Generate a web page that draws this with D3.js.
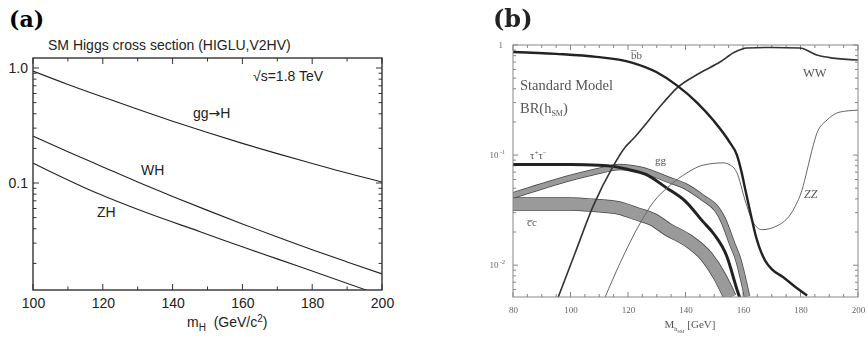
<!DOCTYPE html>
<html>
<head>
<meta charset="utf-8">
<script src="https://cdn.jsdelivr.net/npm/d3@7"></script>
<style>
body { margin: 0; background: #fff; }
svg { display: block; }
</style>
</head>
<body>
<div id="chart"></div>
<script>
var W = 868, H = 339

// ---- panel (a): SM Higgs cross sections at sqrt(s)=1.8 TeV [pb] ----
var ggHMass = [100, 110, 120, 130, 140, 150, 160, 170, 180, 190, 200]
var ggHXsec = [0.94, 0.72, 0.56, 0.437, 0.345, 0.275, 0.221, 0.18, 0.148, 0.122, 0.102]
var whMass = [100, 110, 120, 130, 140, 150, 160, 170, 180, 190, 200]
var whXsec = [0.256, 0.187, 0.138, 0.102, 0.0765, 0.0578, 0.0441, 0.0339, 0.0263, 0.0206, 0.0162]
var zhMass = [100, 104, 118.3, 133, 147.9, 162, 176.5, 195.6]
var zhXsec = [0.149, 0.13, 0.0818, 0.0545, 0.0377, 0.0265, 0.0187, 0.0117]
var xTicksA = [100, 120, 140, 160, 180, 200]
var yTicksA = [1.0, 0.1]
var yTickLabelsA = ["1.0", "0.1"]

// ---- panel (b): SM Higgs branching ratios ----
var bbMass = [80, 95, 109, 120.7, 130, 137, 144, 149.6, 155.5, 157.9, 159.5, 160.7, 162, 163.1, 164.2, 165.5, 167.7, 170, 173.9, 178, 182.3]
var bbBR = [0.864, 0.83, 0.78, 0.70, 0.565, 0.43, 0.30, 0.208, 0.129, 0.1, 0.07, 0.05, 0.035, 0.026, 0.0195, 0.015, 0.011, 0.0092, 0.0078, 0.0064, 0.0053]
var wwMass = [95.7, 101.6, 107.8, 114.8, 119, 121.4, 132.2, 136.7, 145, 152, 157, 161.4, 170, 179.8, 185.7, 191.3, 200]
var wwBR = [0.0051, 0.0129, 0.034, 0.079, 0.118, 0.137, 0.297, 0.40, 0.557, 0.70, 0.86, 0.94, 0.95, 0.94, 0.81, 0.76, 0.73]
var zzMass = [112, 117.2, 124.2, 128.7, 134.6, 140.5, 146.1, 153, 156.5, 157.9, 160.7, 163.5, 166.6, 172.2, 178.1, 180.5, 182.3, 184, 185.7, 189.2, 193.7, 200]
var zzBR = [0.0051, 0.0104, 0.024, 0.037, 0.053, 0.069, 0.081, 0.085, 0.078, 0.069, 0.039, 0.0245, 0.021, 0.023, 0.034, 0.048, 0.073, 0.111, 0.158, 0.208, 0.246, 0.256]
var tauMass = [80, 100, 110, 115, 120, 126, 133.6, 140, 146, 150, 154.4, 158, 158.8]
var tauBR = [0.082, 0.082, 0.081, 0.079, 0.074, 0.067, 0.05, 0.038, 0.025, 0.019, 0.012, 0.0059, 0.0051]
var ggMass = [80, 90, 100, 111, 117, 124, 134.6, 140, 146, 151, 153, 156.5, 158, 161.4]
var ggBR = [0.043, 0.052, 0.062, 0.073, 0.078, 0.074, 0.059, 0.052, 0.041, 0.032, 0.026, 0.015, 0.012, 0.0052]
var ccMass = [80, 100, 108, 117, 123.5, 128.7, 134, 140.5, 147.5, 152, 155.5]
var ccBR = [0.036, 0.036, 0.035, 0.033, 0.029, 0.026, 0.021, 0.017, 0.0118, 0.0078, 0.0051]
var xTicksB = [80, 100, 120, 140, 160, 180, 200]

var svg = d3.select("#chart").append("svg")
    .attr("width", W)
    .attr("height", H)

function zip(xs, ys) {
    return xs.map(function(m, i) { return [m, ys[i]] })
}

function logMinor(lo, hi) {
    // 2..9 multiples of every decade inside [lo, hi]
    var out = []
    for (var e = -3; e <= 0; e++) {
        for (var k = 2; k <= 9; k++) {
            var v = k * Math.pow(10, e)
            if (v > lo && v < hi) out.push(v)
        }
    }
    return out
}

// draw inward ticks on all four sides of a frame
function ticksAll(g, x, y, xMaj, xMin, yMaj, yMin, big, small, col, sw) {
    var x0 = x.range()[0], x1 = x.range()[1], y0 = y.range()[0], y1 = y.range()[1]
    var t = g.append("g").attr("stroke", col).attr("stroke-width", sw)
    function xt(vals, len) {
        vals.forEach(function(v) {
            t.append("line").attr("x1", x(v)).attr("x2", x(v)).attr("y1", y0).attr("y2", y0 - len)
            t.append("line").attr("x1", x(v)).attr("x2", x(v)).attr("y1", y1).attr("y2", y1 + len)
        })
    }
    function yt(vals, len) {
        vals.forEach(function(v) {
            t.append("line").attr("y1", y(v)).attr("y2", y(v)).attr("x1", x0).attr("x2", x0 + len)
            t.append("line").attr("y1", y(v)).attr("y2", y(v)).attr("x1", x1).attr("x2", x1 - len)
        })
    }
    xt(xMaj, big); xt(xMin, small); yt(yMaj, big); yt(yMin, small)
}

// ================= panel (a) =================
var gA = svg.append("g")
var xA = d3.scaleLinear().domain([100, 200]).range([33, 382])
var yA = d3.scaleLog().domain([0.01174, 1.2216]).range([290, 58])

gA.append("text")
    .attr("x", 9).attr("y", 27)
    .attr("font-family", "DejaVu Serif").attr("font-weight", "bold").attr("font-size", 22)
    .text("(a)")

gA.append("text")
    .attr("x", 48).attr("y", 50)
    .attr("font-family", "Liberation Sans").attr("font-size", 14).attr("fill", "#222")
    .text("SM Higgs cross section (HIGLU,V2HV)")

var xAxisA = d3.axisBottom(xA).tickValues(xTicksA).tickSize(0).tickPadding(8)
    .tickFormat(d3.format("d"))
gA.append("g").attr("transform", "translate(0,290)").call(xAxisA)
    .call(function(s) { s.select(".domain").remove() })
    .selectAll("text").attr("font-family", "Liberation Sans").attr("font-size", 14).attr("fill", "#222")

var yAxisA = d3.axisLeft(yA).tickValues(yTicksA).tickSize(0).tickPadding(5)
    .tickFormat(function(d, i) { return yTickLabelsA[i] })
gA.append("g").attr("transform", "translate(33,0)").call(yAxisA)
    .call(function(s) { s.select(".domain").remove() })
    .selectAll("text").attr("font-family", "Liberation Sans").attr("font-size", 14).attr("fill", "#222")

ticksAll(gA, xA, yA, xTicksA, [110, 130, 150, 170, 190], yTicksA, logMinor(0.0117, 1.22), 6, 3.5, "#333", 1)

var lineA = d3.line()
    .x(function(d) { return xA(d[0]) })
    .y(function(d) { return yA(d[1]) })
    .curve(d3.curveMonotoneX)

svg.append("clipPath").attr("id", "clipA").append("rect")
    .attr("x", 33).attr("y", 58).attr("width", 349).attr("height", 232)

var curvesA = [zip(ggHMass, ggHXsec), zip(whMass, whXsec), zip(zhMass, zhXsec)]
gA.append("g").attr("clip-path", "url(#clipA)")
    .selectAll("path").data(curvesA).enter().append("path")
    .attr("d", lineA)
    .attr("fill", "none").attr("stroke", "#222").attr("stroke-width", 1.1)

gA.append("rect")
    .attr("x", 33).attr("y", 58).attr("width", 349).attr("height", 232)
    .attr("fill", "none").attr("stroke", "#333").attr("stroke-width", 1.4)

var labA = gA.append("g").attr("font-family", "Liberation Sans").attr("font-size", 14).attr("fill", "#222")
labA.append("text").attr("x", 253).attr("y", 81).text("\u221As=1.8 TeV")
var ggl = labA.append("text").attr("x", 193).attr("y", 118)
ggl.append("tspan").text("gg")
ggl.append("tspan").attr("font-family", "DejaVu Sans").text("\u2192")
ggl.append("tspan").text("H")
labA.append("text").attr("x", 141).attr("y", 175).text("WH")
labA.append("text").attr("x", 97).attr("y", 217).text("ZH")

var xl = labA.append("text").attr("x", 187).attr("y", 327)
xl.append("tspan").text("m")
xl.append("tspan").attr("font-size", 10).attr("dy", 4).text("H")
xl.append("tspan").attr("dy", -4).text("\u00A0 (GeV/c")
xl.append("tspan").attr("font-size", 10).attr("dy", -5).text("2")
xl.append("tspan").attr("dy", 5).text(")")

// ================= panel (b) =================
var defs = svg.append("defs")
defs.append("filter").attr("id", "scan")
    .append("feGaussianBlur").attr("stdDeviation", 0.55)

var gB = svg.append("g").attr("filter", "url(#scan)")
var xB = d3.scaleLinear().domain([80, 200]).range([513, 858])
var yB = d3.scaleLog().domain([0.00514, 1]).range([297, 45])

gB.append("text")
    .attr("x", 493).attr("y", 27)
    .attr("font-family", "DejaVu Serif").attr("font-weight", "bold").attr("font-size", 24)
    .attr("fill", "#222")
    .text("(b)")

var xMinB = d3.range(85, 200, 5).filter(function(v) { return v % 20 != 0 })
ticksAll(gB, xB, yB, xTicksB, xMinB, [1, 0.1, 0.01], logMinor(0.005, 1), 5, 3, "#777", 0.9)

var xAxisB = d3.axisBottom(xB).tickValues(xTicksB).tickSize(0).tickPadding(10)
    .tickFormat(d3.format("d"))
gB.append("g").attr("transform", "translate(0,297)").call(xAxisB)
    .call(function(s) { s.select(".domain").remove() })
    .selectAll("text").attr("font-family", "Liberation Serif").attr("font-size", 9).attr("fill", "#666")

var tb = gB.append("g").attr("font-family", "Liberation Serif").attr("font-size", 9).attr("fill", "#666")
    .attr("text-anchor", "end")
tb.append("text").attr("x", 503).attr("y", yB(1) + 3).text("1")
;[0.1, 0.01].forEach(function(v, i) {
    var t = tb.append("text").attr("x", 505).attr("y", yB(v) + 3)
    t.append("tspan").text("10")
    t.append("tspan").attr("font-size", 6).attr("dy", -4).text(i == 0 ? " -1" : " -2")
})

var lineB = d3.line()
    .x(function(d) { return xB(d[0]) })
    .y(function(d) { return yB(d[1]) })
    .curve(d3.curveMonotoneX)

var plotB = gB.append("g").attr("clip-path", "url(#clipB)")
svg.append("clipPath").attr("id", "clipB").append("rect")
    .attr("x", 513).attr("y", 45).attr("width", 345).attr("height", 252)

// uncertainty bands: dark edge, grey inside
function band(data, w) {
    plotB.append("path").datum(data).attr("d", lineB)
        .attr("fill", "none").attr("stroke", "#444").attr("stroke-width", w + 1.4)
    plotB.append("path").datum(data).attr("d", lineB)
        .attr("fill", "none").attr("stroke", "#9a9a9a").attr("stroke-width", w)
}
band(zip(ccMass, ccBR), 12)
band(zip(ggMass, ggBR), 5)

function curve(data, col, w) {
    plotB.append("path").datum(data).attr("d", lineB)
        .attr("fill", "none").attr("stroke", col).attr("stroke-width", w)
}
curve(zip(tauMass, tauBR), "#222", 3)
curve(zip(zzMass, zzBR), "#666", 1)
curve(zip(wwMass, wwBR), "#333", 1.6)
curve(zip(bbMass, bbBR), "#222", 2.4)

gB.append("rect")
    .attr("x", 513).attr("y", 45).attr("width", 345).attr("height", 252)
    .attr("fill", "none").attr("stroke", "#888").attr("stroke-width", 1)

var labB = gB.append("g").attr("font-family", "Liberation Serif").attr("font-size", 14.5).attr("fill", "#555")
labB.append("text").attr("x", 520).attr("y", 90).text("Standard Model")
var br = labB.append("text").attr("x", 520).attr("y", 113)
br.append("tspan").text("BR(h")
br.append("tspan").attr("font-size", 8).attr("dy", 3).text("SM")
br.append("tspan").attr("dy", -3).text(")")
var tt = labB.append("text").attr("x", 530).attr("y", 159).attr("font-size", 11)
tt.append("tspan").text("\u03C4")
tt.append("tspan").attr("font-size", 7).attr("dy", -4).text("+")
tt.append("tspan").attr("dy", 4).text("\u03C4")
tt.append("tspan").attr("font-size", 7).attr("dy", -4).text("\u2212")
labB.append("text").attr("x", 631).attr("y", 59).attr("font-size", 11).text("b\u0305b")
labB.append("text").attr("x", 655).attr("y", 164).attr("font-size", 11).text("gg")
labB.append("text").attr("x", 527).attr("y", 226).attr("font-size", 11).text("c\u0305c")
labB.append("text").attr("x", 803).attr("y", 77).attr("font-size", 12.5).text("WW")
labB.append("text").attr("x", 804).attr("y", 198).attr("font-size", 12).attr("font-style", "italic").text("ZZ")

var xlB = labB.append("text").attr("x", 690).attr("y", 328).attr("text-anchor", "middle").attr("font-size", 11)
xlB.append("tspan").text("M")
xlB.append("tspan").attr("font-size", 6).attr("dy", 3).text("h")
xlB.append("tspan").attr("font-size", 5).attr("dy", 2).text("SM")
xlB.append("tspan").attr("dy", -5).text(" [GeV]")
</script>
</body>
</html>
